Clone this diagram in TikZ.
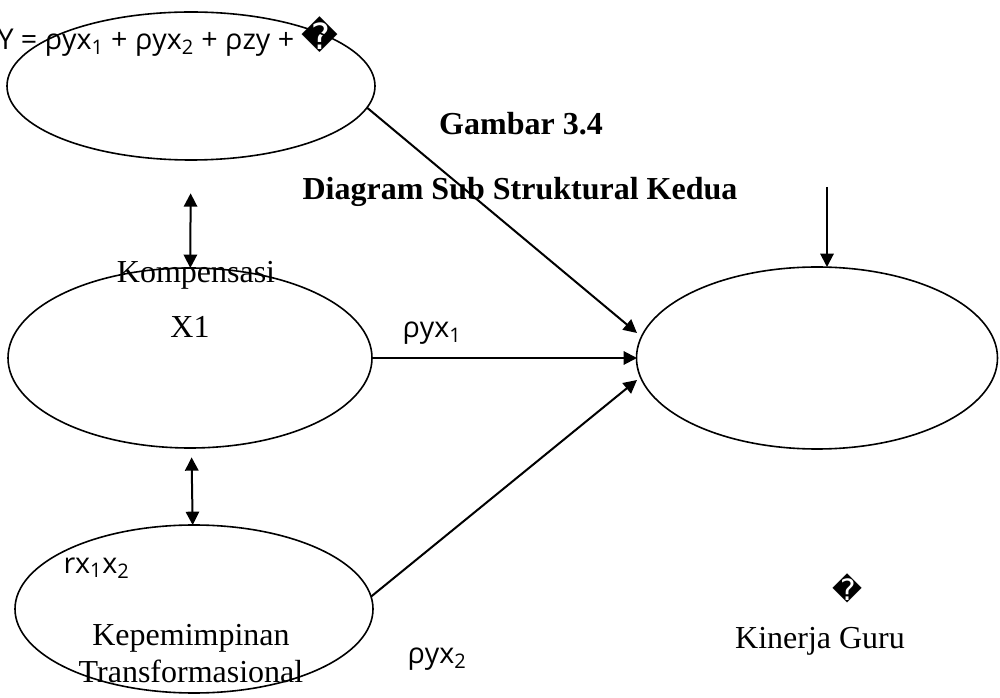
\documentclass[tikz,border=0pt]{standalone}
\usepackage{fontspec}
\setmainfont{Liberation Serif}
\newfontfamily\coeffont{Open Sans}
\newfontfamily\glyphfont{DejaVu Sans}
\usetikzlibrary{shapes.geometric,arrows.meta}

\tikzset{every picture/.style={line width=0.75pt}}
\tikzset{
  var/.style={draw, ellipse, line width=1.2pt, inner sep=0pt, outer sep=0pt},
  patharrow/.style={line width=1.5pt, -{Triangle[length=10pt,width=10pt]}},
  corrarrow/.style={line width=1.5pt, {Triangle[length=10pt,width=10pt]}-{Triangle[length=10pt,width=10pt]}},
  lbl/.style={inner sep=0pt, font=\fontsize{24}{28}\selectfont},
  ttl/.style={inner sep=0pt, font=\fontsize{24}{28}\selectfont\bfseries},
  coef/.style={inner sep=0pt, font=\coeffont\fontsize{21.5}{24}\selectfont},
}

\begin{document}
\begin{tikzpicture}[x=0.75pt,y=0.75pt,yscale=-1,xscale=1]
	\useasboundingbox (0,0) rectangle (1000,698);
	
	%Shape: Ellipse [upper]
	\node [var, minimum width=276pt, minimum height=111pt] (upper) at (191,86) {};
	%Shape: Ellipse [komp]
	\node [var, minimum width=273pt, minimum height=135pt] (komp) at (190,358) {};
	%Shape: Ellipse [trans]
	\node [var, minimum width=268.5pt, minimum height=126pt] (trans) at (194,609) {};
	%Shape: Ellipse [kinerja]
	\node [var, minimum width=270.75pt, minimum height=136.5pt] (kinerja) at (817,358) {};
	
	% free ends
	\coordinate (tipA) at (637,333);
	\coordinate (tipB) at (637,358);
	\coordinate (tipC) at (637,380);
	\coordinate (errTop) at (827,187);
	
	%Straight Lines
	\draw [corrarrow, shorten <=25pt] (upper) -- (komp);
	\draw [corrarrow, shorten <=7pt] (komp) -- (trans);
	\draw [patharrow] (upper.-7) -- (tipA);
	\draw [patharrow] (komp) -- (tipB);
	\draw [patharrow] (trans.4) -- (tipC);
	\draw [patharrow] (errTop) -- (errTop |- kinerja.north);
	
	% Text Node
	\node [coef, anchor=base west] (eqY) at (-3,50) {Y = ρyx\textsubscript{1} + ρyx\textsubscript{2} + ρzy + {\glyphfont\fontsize{27}{30}\selectfont �}};
	% Text Node
	\node [ttl, anchor=base] (gbr) at (521,135) {Gambar 3.4};
	% Text Node
	\node [ttl, anchor=base] (jdl) at (520,200) {Diagram Sub Struktural Kedua};
	% Text Node
	\node [lbl, anchor=base] (tKomp) at (196,283) {Kompensasi};
	% Text Node
	\node [lbl, anchor=base] (tX1) at (190,338) {X1};
	% Text Node
	\node [coef, anchor=base west] (pyx1) at (402,338) {ρyx\textsubscript{1}};
	% Text Node
	\node [coef, anchor=base west] (rx12) at (63,573) {rx\textsubscript{1}x\textsubscript{2}};
	% Text Node
	\node [lbl, anchor=base] (tKep) at (191,645) {Kepemimpinan};
	% Text Node
	\node [lbl, anchor=base] (tTrans) at (191,682) {Transformasional};
	% Text Node
	\node [coef, anchor=base west] (pyx2) at (407,663) {ρyx\textsubscript{2}};
	% Text Node
	\node [lbl, anchor=base] (tKin) at (820,648) {Kinerja Guru};
	% Text Node
	\node [inner sep=0pt, font=\glyphfont\fontsize{22}{24}\selectfont] (err) at (848,588) {�};
	
\end{tikzpicture}
\end{document}
